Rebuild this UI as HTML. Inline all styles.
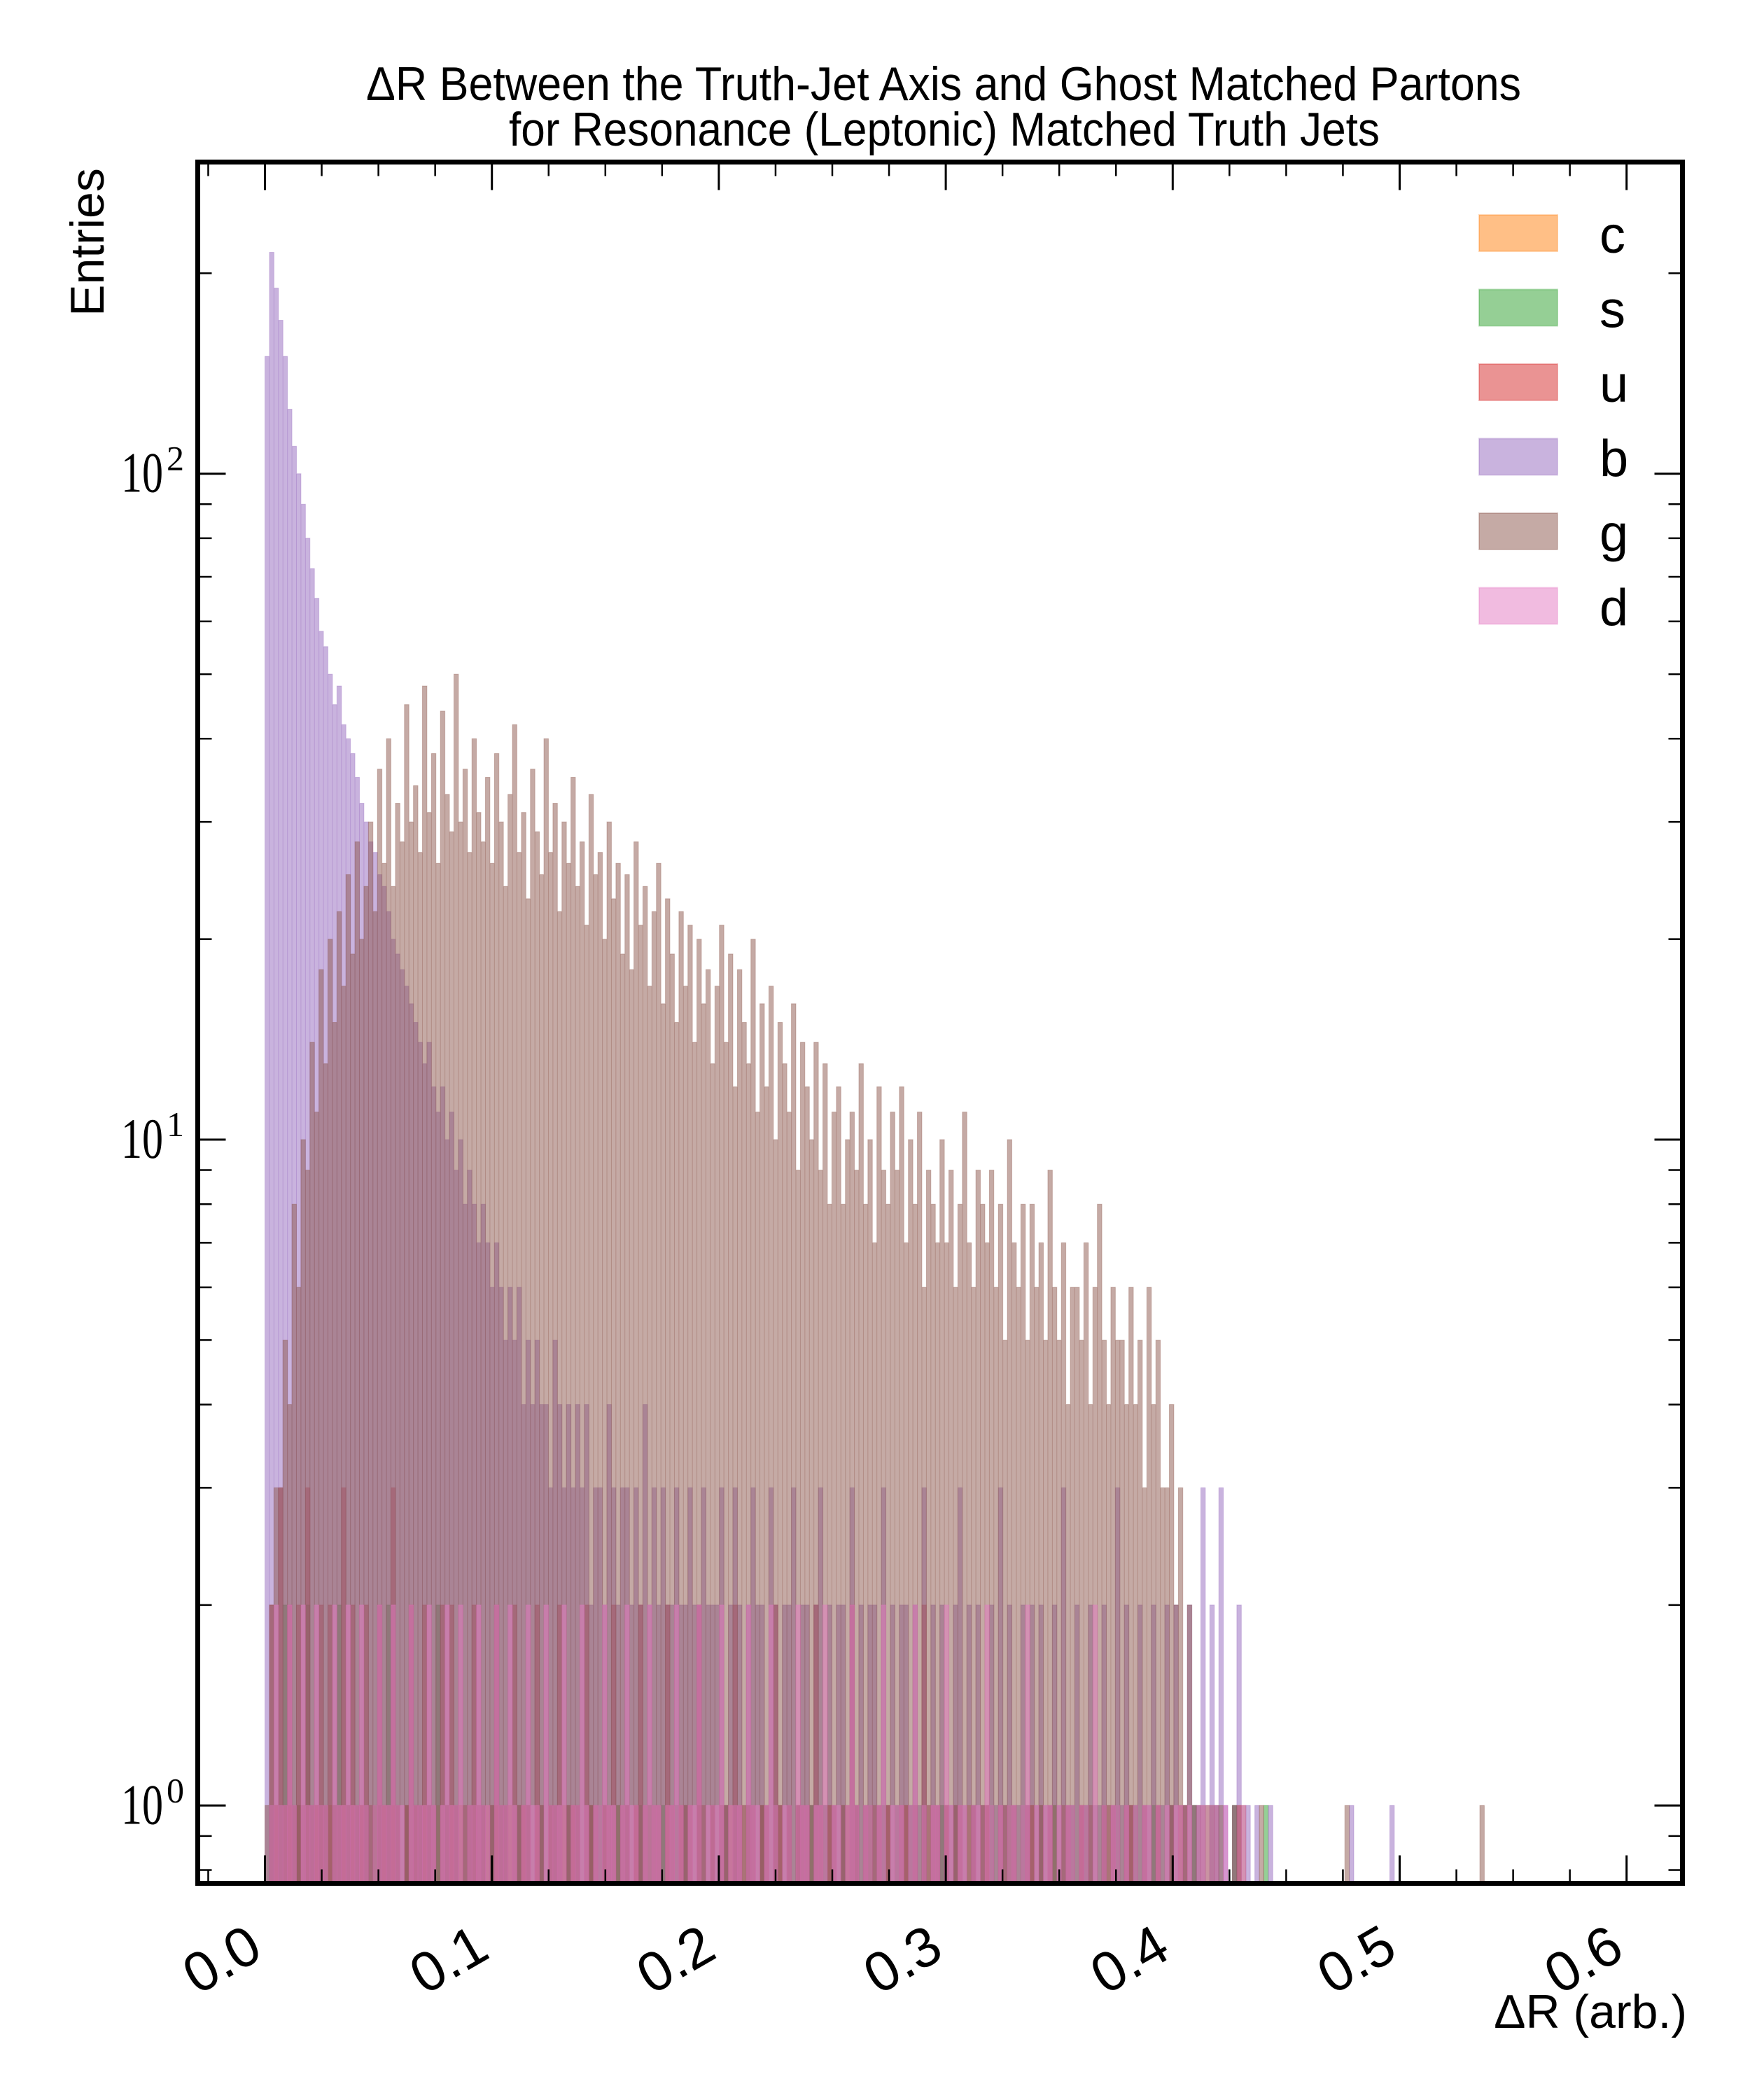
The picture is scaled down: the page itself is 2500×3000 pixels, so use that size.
<!DOCTYPE html>
<html><head><meta charset="utf-8"><style>
html,body{margin:0;padding:0;background:#fff;}
svg{display:block;}
text{font-family:"Liberation Sans",sans-serif;fill:#000;}
.serif{font-family:"Liberation Serif",serif;}
</style></head><body>
<svg id="chart" width="2500" height="3000" viewBox="0 0 2500 3000" xmlns="http://www.w3.org/2000/svg">
<defs><clipPath id="plotclip"><rect x="282.5" y="231.5" width="2121" height="2459"/></clipPath></defs>
<g>
<text x="1348" y="143" font-size="68" text-anchor="middle" textLength="1650" lengthAdjust="spacingAndGlyphs">ΔR Between the Truth-Jet Axis and Ghost Matched Partons</text>
<text x="1349" y="208" font-size="68" text-anchor="middle" textLength="1244" lengthAdjust="spacingAndGlyphs">for Resonance (Leptonic) Matched Truth Jets</text>
</g>
<g id="bars" clip-path="url(#plotclip)"></g>
<g id="ticks"></g>
<rect x="282.5" y="231.5" width="2121" height="2459" fill="none" stroke="#000" stroke-width="7"/>
<text transform="translate(148,346) rotate(-90)" font-size="68" text-anchor="middle">Entries</text>
<text x="2410" y="2897" font-size="68" text-anchor="end">ΔR (arb.)</text>
<g id="legend"></g>
</svg>
<script>
const categories = ["c","s","u","b","g","d"];
const colors = ["#ff7f0e","#2ca02c","#d62728","#9467bd","#8c564b","#e377c2"];
const binCount = 300;
const rangeMax = 0.5948;
const xTickLabels = ["0.0","0.1","0.2","0.3","0.4","0.5","0.6"];
const xTickValues = [0,0.1,0.2,0.3,0.4,0.5,0.6];
const yTickValues = [1,10,100];
const yTickExponents = ["0","1","2"];
const countsC = [0,0,1,0,1,1,0,1,0,1,0,1,1,0,1,0,0,1,0,1,
0,1,0,0,1,0,1,0,1,0,0,1,0,1,0,1,0,0,1,0,
0,1,0,1,0,0,1,0,0,1,0,1,0,0,1,0,0,1,0,0,
1,0,0,1,0,0,1,0,1,0,0,0,1,0,0,1,0,0,1,0,
0,0,1,0,0,1,0,0,0,1,0,0,1,0,0,0,1,0,0,1,
0,0,0,1,0,0,1,0,0,0,1,0,0,0,1,0,0,0,1,0,
0,1,0,0,0,1,0,0,0,1,0,0,0,0,1,0,0,0,1,0,
0,0,1,0,0,0,0,1,0,0,0,1,0,0,0,0,1,0,0,0,
1,0,0,0,0,1,0,0,0,0,1,0,0,0,0,1,0,0,0,0,
0,1,0,0,0,0,0,1,0,0,0,0,1,0,0,0,0,0,1,0,
0,0,0,1,0,0,0,0,0,1,0,0,0,0,0,0,1,0,0,0];
const countsS = [0,1,0,1,2,0,1,1,0,2,1,0,1,1,0,1,2,0,1,0,
1,0,1,0,1,1,0,2,0,1,0,1,0,1,1,0,1,0,2,0,
1,0,1,0,0,1,1,0,1,0,1,0,1,1,0,0,1,0,1,0,
0,1,0,1,1,0,0,1,0,1,0,0,1,0,1,1,0,0,1,0,
1,0,0,1,0,1,0,0,1,0,0,1,0,1,0,0,1,0,0,1,
0,0,1,0,1,0,0,1,0,0,1,0,0,1,0,0,1,0,1,0,
0,1,0,0,1,0,0,0,1,0,0,1,0,0,1,0,0,1,0,0,
1,0,0,1,0,0,1,0,0,0,1,0,0,1,0,0,0,1,0,0,
0,1,0,0,0,1,0,0,1,0,0,0,1,0,0,1,0,0,0,1,
0,0,1,0,0,0,1,0,0,1,0,0,0,1,0,0,0,1,0,0,
0,1,0,0,0,0,1,0,0,0,1,0,0,0,0,1,0,0,0,0,
0,0,1,0];
const countsU = [0,2,1,3,1,2,1,2,1,3,1,1,2,1,2,1,1,3,1,2,
1,1,2,1,0,2,1,1,3,1,0,1,2,1,1,2,1,1,0,2,
1,2,1,0,1,1,2,1,1,0,1,2,1,1,0,2,1,1,1,0,
2,1,0,1,1,2,0,1,1,1,0,2,1,1,0,1,1,2,0,1,
1,0,1,2,1,0,1,1,0,2,1,0,1,1,1,0,2,1,0,1,
0,1,1,0,2,1,0,1,1,0,1,1,0,2,1,0,1,0,1,1,
1,0,2,1,0,1,1,0,1,0,2,1,0,1,0,1,1,0,1,0,
0,1,1,0,1,0,2,0,1,1,0,1,0,1,1,0,0,1,0,1,
1,0,0,1,1,0,1,0,0,1,1,0,1,0,1,0,0,1,1,0,
0,1,0,1,0,0,1,0,1,0,0,1,1,0,0,1,0,0,1,0,
0,1,0,0,1,0,0,1,0,0,0,1,0,0,0,0,1,0,0,0];
const countsB = [150,215,190,170,150,125,110,100,90,80,
72,65,58,55,50,45,48,42,40,38,
35,32,30,28,27,25,24,22,20,19,
18,17,16,15,14,13,14,12,11,12,
10,11,9,10,8,9,8,7,8,7,
6,7,6,5,6,5,6,4,5,4,
5,4,4,3,5,4,3,4,3,4,
3,4,2,3,3,2,4,3,2,3,3,2,3,2,4,2,3,2,3,2,2,3,2,2,3,2,2,3,2,2,
2,3,1,2,3,2,1,2,3,2,2,1,3,2,1,2,2,3,1,2,2,1,2,3,1,2,1,2,2,1,
3,1,2,1,2,2,1,3,1,2,1,2,2,1,2,1,3,1,2,1,2,1,1,2,3,1,2,1,2,1,
1,2,1,3,1,2,1,1,2,1,2,1,2,1,1,2,1,3,1,1,2,1,1,2,1,1,2,1,1,3,
1,2,1,1,2,1,1,2,1,1,
2,1,2,1,1,2,1,1,3,1,
2,1,3,1,0,1,2,0,1,0,
1,0,0,1,0,0,0,0,0,0,
0,0,0,0,0,0,0,0,0,0,
0,1,0,0,0,0,0,0,0,0,
1,0,0,0,0,0,0,0,0,0];
const countsG = [1,2,3,3,5,4,8,6,10,9,
14,11,18,13,20,15,22,17,25,19,
28,20,24,30,22,36,26,40,24,32,
28,45,30,34,27,48,31,38,26,44,
33,29,50,30,36,27,40,31,28,35,
26,38,30,24,33,42,27,31,23,36,
29,25,40,27,32,22,30,26,35,24,
28,21,33,25,27,20,30,23,26,19,
25,18,28,21,24,17,22,26,16,23,
19,15,22,17,21,14,20,16,18,13,
17,21,14,19,12,18,15,13,20,11,
16,12,17,10,15,13,11,16,9,14,
12,10,14,9,13,8,11,12,8,10,
11,9,13,8,10,7,12,9,8,11,
9,12,7,10,8,11,6,9,8,7,
10,7,9,6,8,11,7,6,9,8,
7,9,6,8,5,10,7,6,8,5,
8,6,7,5,9,6,5,7,4,6,
6,5,7,4,6,8,5,4,6,5,
5,4,6,4,5,3,6,4,5,3,
3,4,2,3,1,2,1,0,1,0,
1,0,1,0,0,1,0,1,0,0,
0,1,0,0,0,0,0,0,0,0,
0,0,0,0,0,0,0,0,0,0,
1,0,0,0,0,0,0,0,0,0,
0,0,0,0,0,0,0,0,0,0,
0,0,0,0,0,0,0,0,0,0,
1,0,0,0,0,0,0,0,0,0];
const countsD = [0,1,2,1,1,2,1,0,2,1,1,2,1,1,0,2,1,1,2,1,
1,2,1,0,1,2,1,1,2,1,1,0,2,1,1,1,2,1,0,1,
2,1,1,2,0,1,1,2,1,1,0,2,1,1,2,1,0,1,2,1,
1,0,2,1,1,1,2,0,1,1,2,1,0,1,1,2,1,1,0,1,
2,1,1,0,1,2,1,1,0,1,1,2,1,0,1,1,2,0,1,1,
1,2,0,1,1,1,0,2,1,1,0,1,2,1,0,1,1,0,2,1,
1,0,1,1,2,0,1,1,0,1,2,1,0,1,1,0,1,2,0,1,
1,1,0,1,2,0,1,0,1,1,0,2,1,0,1,1,0,1,1,0,
2,1,0,1,0,1,1,0,1,2,0,1,0,1,1,0,1,0,1,1,
0,1,1,0,2,0,1,0,1,1,0,1,0,1,0,1,1,0,1,0,
1,0,1,1,0,1,0,0,1,0,1,0,0,1,0,0,0,1,0,0];
const seriesCounts = [countsC,countsS,countsU,countsB,countsG,countsD];

const NS = "http://www.w3.org/2000/svg";
const PL=282.5, PT=231.5, PR=2403.5, PB=2690.5;
function xScale(v){ return 378.5 + v*3242; }
function yScale(v){ return 2579.3 - Math.log10(v)*951.3; }
function mk(tag, attrs){ const e=document.createElementNS(NS,tag); for(const k in attrs) e.setAttribute(k, attrs[k]); return e; }

const bars = document.getElementById('bars');
const binW = rangeMax/binCount;
seriesCounts.forEach((arr, si) => {
  let d = "";
  for (let i=0;i<binCount;i++){
    const v = arr[i]||0;
    if (v<=0) continue;
    const x0=xScale(i*binW), x1=xScale((i+1)*binW), y=yScale(v);
    d += `M${x0.toFixed(2)} ${PB+5}V${y.toFixed(2)}H${x1.toFixed(2)}V${PB+5}Z`;
  }
  const p = mk('path',{d:d, fill:colors[si], 'fill-opacity':0.5, stroke:colors[si], 'stroke-opacity':0.35, 'stroke-width':1});
  
  
  bars.appendChild(p);
});

const ticks = document.getElementById('ticks');
function line(x1,y1,x2,y2,w){ const l=mk('line',{x1:x1,y1:y1,x2:x2,y2:y2,stroke:'#000','stroke-width':w}); ticks.appendChild(l); return l; }
xTickValues.forEach((v,i)=>{
  const x=xScale(v);
  const a=line(x,PB,x,PB-40,3);
  
  
  const b=line(x,PT,x,PT+40,3);
  
  
  const t=mk('text',{'font-size':80,'text-anchor':'end',transform:`translate(${x},2795) rotate(-30)`});
  t.textContent=xTickLabels[i];
  
  
  ticks.appendChild(t);
});
for(let k=-1;k<=25;k++){
  if(k%4===0) continue;
  const x=xScale(k*0.025);
  if(x<=PL+4||x>=PR-4) continue;
  const a=line(x,PB,x,PB-20,2.5);
  
  
  const b=line(x,PT,x,PT+20,2.5);
  
  
}
yTickValues.forEach((v,i)=>{
  const y=yScale(v);
  const a=line(PL,y,PL+40,y,3);
  
  
  const b=line(PR,y,PR-40,y,3);
  
  
  const t=mk('text',{x:173,y:y+26,'font-size':82,class:'serif',textLength:60,lengthAdjust:'spacingAndGlyphs'});
  t.textContent='10';
  
  
  ticks.appendChild(t);
  const s=mk('text',{x:238,y:y-5,'font-size':50,class:'serif'});
  s.textContent=yTickExponents[i];
  
  
  ticks.appendChild(s);
});
for(let e=-1;e<=2;e++){
  for(let m=2;m<=9;m++){
    const y=yScale(m*Math.pow(10,e));
    if(y<=PT+4||y>=PB-4) continue;
    const a=line(PL,y,PL+20,y,2.5);
    
    
    const b=line(PR,y,PR-20,y,2.5);
    
    
  }
}
const legend=document.getElementById('legend');
categories.forEach((c,i)=>{
  const y0=307+i*106.5;
  const r=mk('rect',{x:2113,y:y0,width:112,height:52,fill:colors[i],'fill-opacity':0.5,stroke:colors[i],'stroke-opacity':0.3,'stroke-width':2});
  
  
  legend.appendChild(r);
  const t=mk('text',{x:2285,y:y0+54,'font-size':74});
  t.textContent=c;
  
  
  legend.appendChild(t);
});
</script>
</body></html>
